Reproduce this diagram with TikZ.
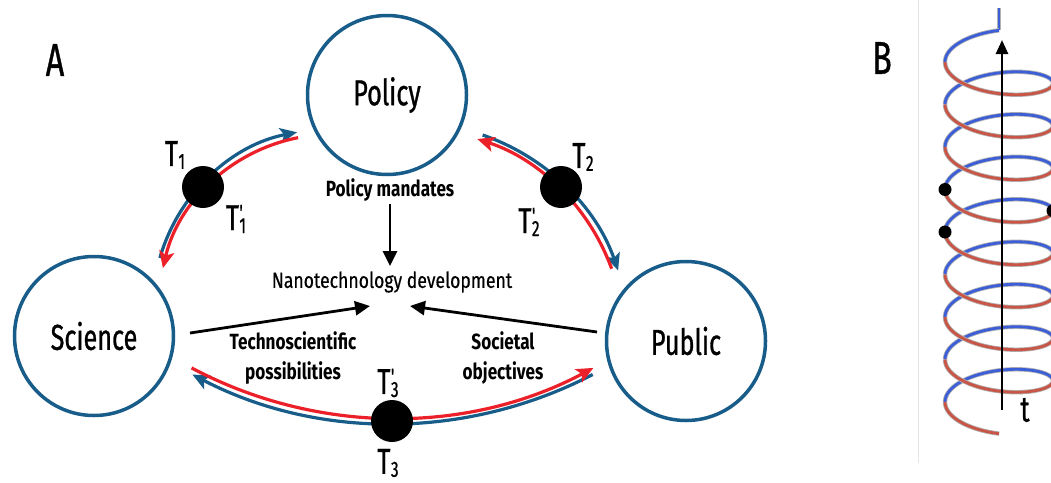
\documentclass[tikz,border=0pt]{standalone}
\usepackage{fontspec}
\setmainfont[FakeStretch=0.7, UprightFeatures={FakeBold=0.8}]{Fira Sans}
\newfontfamily\smallfam[FakeStretch=0.8, UprightFeatures={FakeBold=0.5}]{Fira Sans}
\newfontfamily\boldfam[FakeStretch=0.78]{Fira Sans Bold}
\usetikzlibrary{arrows.meta}
\definecolor{cblue}{RGB}{24,92,138}
\definecolor{cred}{RGB}{236,32,40}
\definecolor{hblue}{RGB}{60,95,215}
\definecolor{hred}{RGB}{200,85,70}
\newcommand\Tsub[1]{T\kern0.5pt\raisebox{-3pt}{\fontsize{22}{22}\selectfont #1}}
\newcommand\Tpr[1]{T\kern0.5pt\rlap{\raisebox{10pt}{\fontsize{22}{22}\selectfont\textquotesingle}}\raisebox{-3pt}{\fontsize{22}{22}\selectfont #1}}
\newcommand\helixseg[3]{%
  \draw[black!30,line width=4.4pt] plot[domain=#2:#3,samples=45,smooth] ({999-54*cos(\x)},{62+(\x/360)*42.5+21*sin(\x)});
  \draw[#1,line width=2.8pt] plot[domain=#2:#3,samples=45,smooth] ({999-54*cos(\x)},{62+(\x/360)*42.5+21*sin(\x)});}
\tikzset{
  ring/.style={circle, draw=cblue, line width=3.5pt, minimum size=159pt, inner sep=0pt, font=\fontsize{36}{40}\selectfont},
  dot/.style={circle, fill=black, minimum size=42pt, inner sep=0pt},
  lbl/.style={font=\fontsize{36}{40}\selectfont, inner sep=0pt},
  panel/.style={font=\fontsize{46}{50}\selectfont, inner sep=0pt},
  small/.style={font=\smallfam\fontsize{22}{28}\selectfont, inner sep=0pt},
  smallb/.style={font=\boldfam\fontsize{22}{30}\selectfont, inner sep=0pt, align=center},
  arr/.style={draw=black, line width=2.8pt, -{Triangle[length=15pt,width=14pt]}},
  bl/.style={draw=cblue, line width=3.2pt, -{Stealth[length=17pt,width=15pt,inset=4pt]}},
  rd/.style={draw=cred, line width=3.2pt, -{Stealth[length=17pt,width=15pt,inset=4pt]}},
}
\begin{document}
\begin{tikzpicture}[x=1pt,y=-1pt]
\useasboundingbox (0,0) rectangle (1051,482);
% panel A
\node[panel] (A) at (55,60) {A};
\node[ring] (policy) at (387,95) {Policy};
\node[ring] (science) at (94,336) {Science};
\node[ring] (public) at (686,341) {Public};

\node[smallb] (pm) at (390,190) {Policy mandates};
\node[small] (nano) at (392,282) {Nanotechnology development};
\node[smallb] (tech) at (293,358) {Technoscientific\\possibilities};
\node[smallb] (soc) at (503,358) {Societal\\objectives};

\coordinate (s1) at (190,333);
\coordinate (n1) at (370,306);
\coordinate (p1) at (597,332);
\coordinate (n2) at (410,306);
\draw[arr] (pm.south |- 0,204) -- (pm.south |- 0,266);
\draw[arr] (s1) -- (n1);
\draw[arr] (p1) -- (n2);

% T1 arc
\coordinate (c1) at (331,307);
\draw[bl] ([shift={(196:178)}]c1) arc[start angle=196,end angle=259,radius=178];
\draw[rd] ([shift={(259:172.5)}]c1) arc[start angle=259,end angle=193,radius=172.5];
% T2 arc
\coordinate (c2) at (411.5,341.6);
\draw[bl] ([shift={(289:218.5)}]c2) arc[start angle=289,end angle=341,radius=218.5];
\draw[rd] ([shift={(340:213)}]c2) arc[start angle=340,end angle=288,radius=213];
% T3 arc
\coordinate (c3) at (392.5,-10);
\draw[bl] ([shift={(62.5:433.5)}]c3) arc[start angle=62.5,end angle=117.5,radius=433.5];
\draw[rd] ([shift={(118:428)}]c3) arc[start angle=118,end angle=62,radius=428];

\node[dot] (d1) at (203,187) {};
\node[dot] (d2) at (561,187) {};
\node[dot] (d3) at (392,421) {};

\node[lbl] (t1) at (175,155) {\Tsub{1}};
\node[lbl] (t1p) at (236,219) {\Tpr{1}};
\node[lbl] (t2) at (583,157) {\Tsub{2}};
\node[lbl] (t2p) at (529,222) {\Tpr{2}};
\node[lbl] (t3p) at (388,383) {\Tpr{3}};
\node[lbl] (t3) at (388,463) {\Tsub{3}};

% panel B
\draw[black!10,line width=0.8pt] (918,0) -- (918,463);
\node[panel] (B) at (882,58) {B};
\draw[black!30,line width=4.4pt] (999,8) -- (999,30.4);
\draw[hblue,line width=2.8pt] (999,8) -- (999,30.4);
\helixseg{hblue}{-90}{0}
\foreach \k [evaluate=\k as \ds using 180+360*\k, evaluate=\k as \de using 360+360*\k] in {0,...,7} {
  \helixseg{hblue}{\ds}{\de}
}
\foreach \k [evaluate=\k as \ds using 360*\k, evaluate=\k as \de using 180+360*\k] in {0,...,7} {
  \helixseg{hred}{\ds}{\de}
}
\helixseg{hred}{2880}{2970}
\node[circle,fill=black,minimum size=13pt,inner sep=0pt] (h1) at (945,189.5) {};
\node[circle,fill=black,minimum size=13pt,inner sep=0pt] (h2) at (945,232) {};
\node[circle,fill=black,minimum size=13pt,inner sep=0pt] (h3) at (1053,210.75) {};
\coordinate (tb) at (1002,410);
\coordinate (tt) at (1002,40);
\draw[draw=black, line width=2.6pt, -{Triangle[length=14pt,width=12pt]}] (tb) -- (tt);
\node[lbl] (tl) at (1025,410) {t};
\end{tikzpicture}
\end{document}
